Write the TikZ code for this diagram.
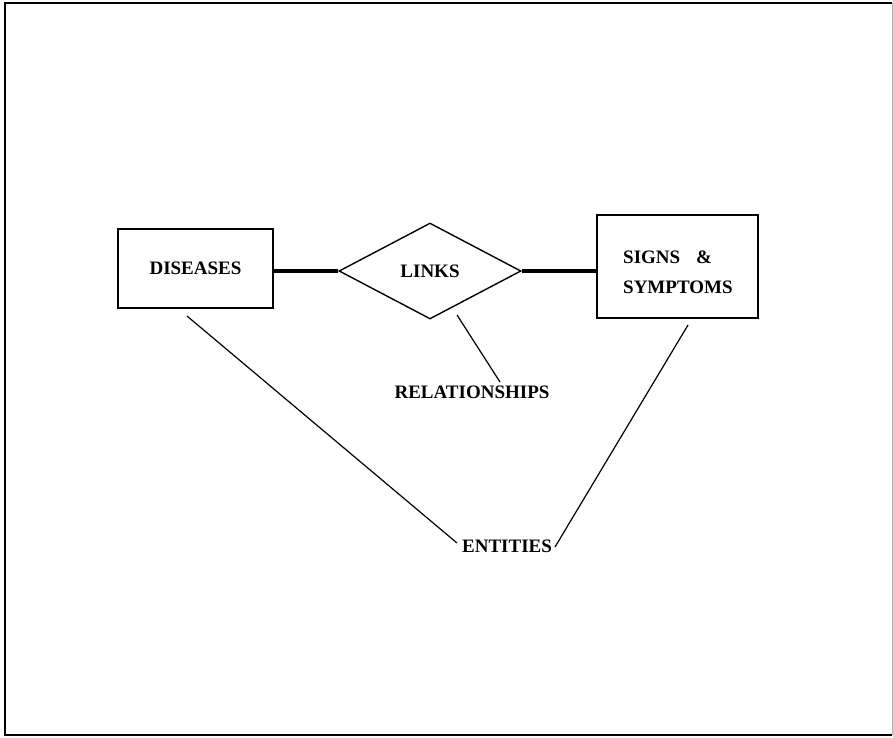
\documentclass[tikz,border=0pt]{standalone}
\usepackage{fontspec}
\setmainfont{Liberation Serif}
\usetikzlibrary{shapes.geometric}
\begin{document}
\begin{tikzpicture}[x=1pt,y=-1pt,
  lbl/.style={font=\bfseries\fontsize{19}{23}\selectfont, inner sep=0pt},
  entbox/.style={draw, line width=1.4pt, lbl, inner sep=0pt},
  reldia/.style={draw, diamond, line width=1.4pt, lbl, inner sep=0pt},
  thickcon/.style={line width=3.4pt},
  thincon/.style={line width=1.2pt},
  frame/.style={line width=1.4pt}]
\useasboundingbox (0,0) rectangle (893,737);
% frame
\draw[frame] (892,3) -- (5,3) -- (5,735) -- (892,735);
\draw[line width=0.8pt, black!30] (892,3) -- (892,735);
% nodes
\node[entbox, minimum width=155pt, minimum height=79pt] (diseases) at (195.5,268.5) {DISEASES};
\node[reldia, minimum width=182pt, minimum height=96pt] (links) at (430,271) {LINKS};
\node[entbox, minimum width=161pt, minimum height=103pt] (signs) at (677.5,266.5) {};
\node[lbl, anchor=west] (signsA) at (623,257) {SIGNS\hspace{16pt}\&};
\node[lbl, anchor=west] (signsB) at (623,287) {SYMPTOMS};
\node[lbl] (relationships) at (472,392) {RELATIONSHIPS};
\node[lbl] (entities) at (507,546) {ENTITIES};
% connectors
\draw[thickcon] (links.west) -- (links.west -| diseases.east);
\draw[thickcon] (links.east) -- (links.east -| signs.west);
\coordinate (r1) at (457,315);
\coordinate (r2) at (500,382);
\draw[thincon] (r1) -- (r2);
\coordinate (d1) at (187,316);
\coordinate (e1) at (457,543);
\draw[thincon] (d1) -- (e1);
\coordinate (s1) at (688,325);
\coordinate (e2) at (555,547);
\draw[thincon] (s1) -- (e2);
\end{tikzpicture}
\end{document}
